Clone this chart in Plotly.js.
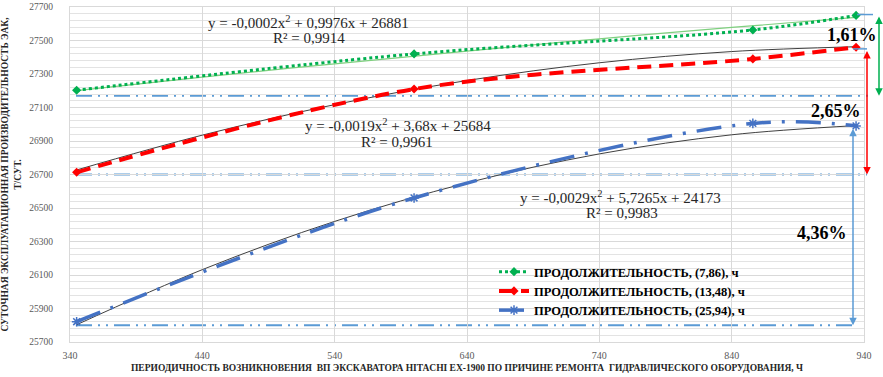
<!DOCTYPE html>
<html>
<head>
<meta charset="utf-8">
<script src="https://cdn.plot.ly/plotly-3.0.1.min.js"></script>
<style>html,body{margin:0;padding:0;background:#fff;}#chart{width:883px;height:377px;}</style>
</head>
<body>
<div id="chart"></div>
<script>
// ---- data ----
const seriesNames = ['ПРОДОЛЖИТЕЛЬНОСТЬ, (7,86), ч', 'ПРОДОЛЖИТЕЛЬНОСТЬ, (13,48), ч', 'ПРОДОЛЖИТЕЛЬНОСТЬ, (25,94), ч'];
const xData = [345, 600, 856, 934];
const greenY = [27203, 27420, 27563, 27650];
const redY = [26713, 27210, 27390, 27460];
const blueY = [25821, 26560, 27005, 26990];

const trendX = [345, 440, 540, 640, 740, 840, 934];
const greenTrendY = [27201, 27281, 27361, 27437, 27510, 27578, 27638];
const redTrendY = [26727, 26935, 27117, 27261, 27367, 27434, 27463];
const blueTrendY = [25803, 26132, 26420, 26650, 26823, 26937, 26992];

const equations = ['y = -0,0002x<sup>2</sup> + 0,9976x + 26881', 'y = -0,0019x<sup>2</sup> + 3,68x + 25684', 'y = -0,0029x<sup>2</sup> + 5,7265x + 24173'];
const rSquared = ['R² = 0,9914', 'R² = 0,9961', 'R² = 0,9983'];
const percentLabels = ['1,61%', '2,65%', '4,36%'];
const refLevels = [27170, 26700, 25800];
const arrowTops = [27655, 27450, 26985];

const xTicks = [340, 440, 540, 640, 740, 840, 940];
const yTicks = [25700, 25900, 26100, 26300, 26500, 26700, 26900, 27100, 27300, 27500, 27700];

// ---- styles ----
const colors = ['#00B050', '#FF0000', '#4472C4'];
const refColor = '#5B9BD5';
const serif = '"Liberation Serif", serif';

const traces = [
  {x: trendX, y: greenTrendY, mode: 'lines', line: {color: '#7FD07F', width: 1.2, shape: 'spline'}, showlegend: false, hoverinfo: 'skip'},
  {x: trendX, y: redTrendY, mode: 'lines', line: {color: '#404040', width: 1, shape: 'spline'}, showlegend: false, hoverinfo: 'skip'},
  {x: trendX, y: blueTrendY, mode: 'lines', line: {color: '#404040', width: 1, shape: 'spline'}, showlegend: false, hoverinfo: 'skip'},
  {x: xData, y: greenY, name: seriesNames[0], mode: 'lines+markers',
   line: {color: colors[0], width: 3, dash: 'dot', shape: 'spline'},
   marker: {symbol: 'diamond', size: 7, color: colors[0]}},
  {x: xData, y: redY, name: seriesNames[1], mode: 'lines+markers',
   line: {color: colors[1], width: 4, dash: '14px,8px', shape: 'spline'},
   marker: {symbol: 'diamond', size: 7, color: colors[1]}},
  {x: xData, y: blueY, name: seriesNames[2], mode: 'lines+markers',
   line: {color: colors[2], width: 3.5, dash: '25px,11px,3px,11px', shape: 'spline'},
   marker: {symbol: 'asterisk-open', size: 8, line: {color: refColor, width: 1.5}, color: colors[2]}}
];

const P = {l: 70, r: 19, t: 7, b: 35, W: 883, H: 377};
const pw = P.W - P.l - P.r, ph = P.H - P.t - P.b;
const px2x = v => (v - P.l) / pw;
const py2y = v => 1 - (v - P.t) / ph;

const refEnds = [873, 867, 853];
const arrowX = [879, 867, 853];
const shapes = refLevels.map((lv, i) => ({
  type: 'line', xref: 'paper', yref: 'y', x0: px2x(76), x1: px2x(refEnds[i]), y0: lv, y1: lv,
  line: {color: refColor, width: 2, dash: '16px,6px,2px,6px,2px,6px'}, layer: 'below'
}));
shapes.push({type: 'line', xref: 'paper', yref: 'y', x0: px2x(857), x1: px2x(873), y0: arrowTops[0], y1: arrowTops[0], line: {color: refColor, width: 1.5}});
shapes.push({type: 'line', xref: 'paper', yref: 'y', x0: px2x(853), x1: px2x(867), y0: arrowTops[1], y1: arrowTops[1], line: {color: refColor, width: 1.5}});

const annotations = [];
const eqPos = [[308, 22], [398, 125], [620, 197]];
const rPos = [[309, 38], [397, 142], [622, 213]];
for (let i = 0; i < 3; i++) {
  annotations.push({xref: 'paper', yref: 'paper', x: px2x(eqPos[i][0]), y: py2y(eqPos[i][1]), text: equations[i], showarrow: false,
    xanchor: 'center', yanchor: 'middle', font: {family: serif, size: 15, color: '#262626'}});
  annotations.push({xref: 'paper', yref: 'paper', x: px2x(rPos[i][0]), y: py2y(rPos[i][1]), text: rSquared[i], showarrow: false,
    xanchor: 'center', yanchor: 'middle', font: {family: serif, size: 15, color: '#262626'}});
}
const pctPos = [[852, 35], [836, 111], [822, 233]];
for (let i = 0; i < 3; i++) {
  annotations.push({xref: 'paper', yref: 'paper', x: px2x(pctPos[i][0]), y: py2y(pctPos[i][1]), text: '<b>' + percentLabels[i] + '</b>', showarrow: false,
    xanchor: 'center', yanchor: 'middle', font: {family: serif, size: 18, color: '#000'}});
}
const arrowColors = [colors[0], colors[1], refColor];
for (let i = 0; i < 3; i++) {
  annotations.push({xref: 'paper', yref: 'y', x: px2x(arrowX[i]), y: refLevels[i], axref: 'pixel', ayref: 'y', ax: 0, ay: arrowTops[i],
    text: ' ', showarrow: true, arrowhead: 2, startarrowhead: 2, arrowside: 'end+start', arrowsize: 1, startarrowsize: 1,
    arrowwidth: 1.5, arrowcolor: arrowColors[i], standoff: 0, startstandoff: 0, font: {size: 1}});
}

const layout = {
  width: P.W, height: P.H,
  margin: {l: P.l, r: P.r, t: P.t, b: P.b},
  paper_bgcolor: '#fff', plot_bgcolor: '#fff',
  font: {family: serif, color: '#595959'},
  xaxis: {range: [340, 940], tickvals: xTicks, ticktext: xTicks.map(String), showgrid: true, gridcolor: '#D9D9D9', gridwidth: 1,
    zeroline: false, showline: true, linecolor: '#D9D9D9', mirror: true, ticks: '', tickfont: {family: serif, size: 10, color: '#595959'},
    ticklabelstandoff: 4,
    title: {text: '<b>ПЕРИОДИЧНОСТЬ ВОЗНИКНОВЕНИЯ  ВП ЭКСКАВАТОРА HITACHI EX-1900 ПО ПРИЧИНЕ РЕМОНТА  ГИДРАВЛИЧЕСКОГО ОБОРУДОВАНИЯ, Ч</b>',
      font: {family: serif, size: 9.5, color: '#262626'}, standoff: 4}},
  yaxis: {range: [25700, 27700], tickvals: yTicks, ticktext: yTicks.map(String), showgrid: true, gridcolor: '#D9D9D9', gridwidth: 1,
    minor: {dtick: 40, tick0: 25700, showgrid: true, gridcolor: '#E3E3E3', gridwidth: 1},
    zeroline: false, showline: true, linecolor: '#D9D9D9', mirror: true, ticks: '', tickfont: {family: serif, size: 9.5, color: '#595959'},
    ticklabelstandoff: 14,
    title: {text: '<b>СУТОЧНАЯ ЭКСПЛУАТАЦИОННАЯ ПРОИЗВОДИТЕЛЬНОСТЬ ЭАК,<br>Т/СУТ.</b>', font: {family: serif, size: 9.5, color: '#262626'}, standoff: 6}},
  legend: {x: px2x(494), y: py2y(257), xanchor: 'left', yanchor: 'top', bgcolor: 'rgba(0,0,0,0)',
    font: {family: serif, size: 12.5, color: '#000', weight: 'bold'}, itemwidth: 30, tracegroupgap: 0},
  shapes: shapes,
  annotations: annotations,
  showlegend: true
};

Plotly.newPlot('chart', traces, layout, {displayModeBar: false, staticPlot: true});
</script>
</body>
</html>
